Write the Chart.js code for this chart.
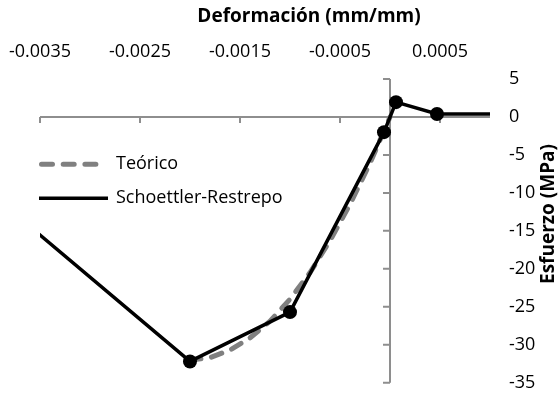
<!DOCTYPE html>
<html>
<head>
<meta charset="utf-8">
<script src="https://cdn.jsdelivr.net/npm/chart.js@4/dist/chart.umd.min.js"></script>
<style>
  html, body { margin: 0; padding: 0; background: #fff; }
  #wrap { width: 560px; height: 402px; }
</style>
</head>
<body>
<div id="wrap"><canvas id="c" width="560" height="402"></canvas></div>
<script>
// Axis tick values
const strainTicks = [-0.0035, -0.0025, -0.0015, -0.0005, 0.0005];
const stressTicks = [5, 0, -5, -10, -15, -20, -25, -30, -35];

// Teórico: stress-strain curve (strain mm/mm, stress MPa)
const teoricoStrain = [-0.002, -0.0018, -0.0016, -0.0014, -0.0012, -0.001, -0.0008, -0.0006, -0.0004, -0.0002, 0];
const teoricoStress = [-32, -31.7, -30.7, -29.1, -26.9, -24.0, -20.5, -16.3, -11.5, -6.1, 0];

// Schoettler-Restrepo model points
const srStrain = [-0.004, -0.002, -0.001, -0.00006, 0.00006, 0.00047, 0.0015];
const srStress = [-10, -32.2, -25.7, -2.0, 1.95, 0.4, 0.4];

const FONT = '"Open Sans"';
const TEXT = '#000000';
const AXIS = '#8e8e8e';

const toPoints = (xs, ys) => xs.map((x, i) => ({ x: x, y: ys[i] }));

// Axis lines crossing at zero, with outside tick marks
const zeroAxes = {
  id: 'zeroAxes',
  beforeDatasetsDraw(chart) {
    const { ctx, scales: { x, y } } = chart;
    const x0 = x.getPixelForValue(0);
    const y0 = y.getPixelForValue(0);
    ctx.save();
    ctx.strokeStyle = AXIS;
    ctx.lineWidth = 2;
    ctx.beginPath();
    ctx.moveTo(x.left, y0);
    ctx.lineTo(x.right, y0);
    strainTicks.forEach(v => {
      const px = x.getPixelForValue(v);
      ctx.moveTo(px, y0);
      ctx.lineTo(px, y0 + 6);
    });
    ctx.moveTo(x0, y.top);
    ctx.lineTo(x0, y.bottom);
    stressTicks.forEach(v => {
      const py = y.getPixelForValue(v);
      ctx.moveTo(x0, py);
      ctx.lineTo(x0 - 7, py);
    });
    ctx.stroke();
    ctx.restore();
  },
  afterDraw(chart) {
    const { ctx } = chart;
    ctx.save();
    ctx.fillStyle = TEXT;
    // axis titles
    ctx.font = 'bold 19px ' + FONT;
    ctx.textAlign = 'center';
    ctx.textBaseline = 'middle';
    ctx.fillText('Deformación (mm/mm)', 309, 17);
    ctx.save();
    ctx.translate(549, 214);
    ctx.rotate(-Math.PI / 2);
    ctx.fillText('Esfuerzo (MPa)', 0, 0);
    ctx.restore();

    // legend
    const rows = [chart.data.datasets[1], chart.data.datasets[0]];
    const rowY = [164.3, 198.3];
    rows.forEach((ds, i) => {
      ctx.save();
      ctx.strokeStyle = ds.borderColor;
      ctx.lineWidth = ds.borderWidth;
      ctx.lineCap = ds.borderCapStyle || 'butt';
      ctx.setLineDash(ds.borderDash || []);
      ctx.beginPath();
      const inset = ds.borderDash ? 2.5 : 0;
      ctx.moveTo(39 + inset, rowY[i]);
      ctx.lineTo(108 - inset, rowY[i]);
      ctx.stroke();
      ctx.restore();
      ctx.font = '18px ' + FONT;
      ctx.textAlign = 'left';
      ctx.textBaseline = 'middle';
      ctx.fillStyle = TEXT;
      ctx.fillText(ds.label, 116, rowY[i]);
    });
    ctx.restore();
  }
};

new Chart(document.getElementById('c'), {
  type: 'scatter',
  data: {
    datasets: [
      {
        label: 'Schoettler-Restrepo',
        data: toPoints(srStrain, srStress),
        showLine: true,
        borderColor: '#000000',
        borderWidth: 3.5,
        pointRadius: 7,
        pointBackgroundColor: '#000000',
        pointBorderWidth: 0,
        tension: 0,
        clip: 0,
        order: 0
      },
      {
        label: 'Teórico',
        data: toPoints(teoricoStrain, teoricoStress),
        showLine: true,
        borderColor: '#808080',
        borderWidth: 5,
        borderDash: [11, 10.7],
        borderCapStyle: 'round',
        pointRadius: 0,
        tension: 0,
        clip: 0,
        order: 1
      }
    ]
  },
  options: {
    responsive: false,
    devicePixelRatio: 1,
    animation: false,
    events: [],
    layout: { padding: { left: 40, top: 39, right: 0, bottom: 19.3 } },
    plugins: { legend: { display: false }, tooltip: { enabled: false } },
    scales: {
      x: {
        type: 'linear',
        position: 'top',
        min: -0.0035,
        max: 0.001,
        grid: { display: false, drawTicks: false },
        border: { display: false },
        afterBuildTicks: s => { s.ticks = strainTicks.map(v => ({ value: v })); },
        afterFit: s => { s.height = 40; s.paddingLeft = 0; s.paddingRight = 0; },
        ticks: {
          padding: 16.7,
          color: TEXT,
          font: { family: FONT, size: 18 },
          maxRotation: 0,
          autoSkip: false,
          callback: v => Number(v).toFixed(4)
        }
      },
      y: {
        type: 'linear',
        position: 'right',
        min: -35,
        max: 5,
        grid: { display: false, drawTicks: false },
        border: { display: false },
        afterBuildTicks: s => { s.ticks = stressTicks.map(v => ({ value: v })); },
        afterFit: s => { s.width = 70; s.paddingTop = 0; s.paddingBottom = 0; },
        ticks: {
          padding: 19,
          color: TEXT,
          font: { family: FONT, size: 18 },
          autoSkip: false
        }
      }
    }
  },
  plugins: [zeroAxes]
});
</script>
</body>
</html>
